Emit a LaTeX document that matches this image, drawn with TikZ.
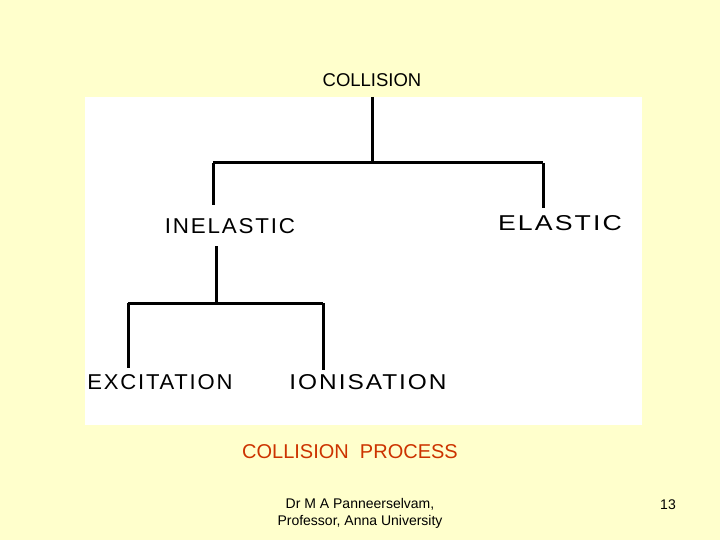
\documentclass[tikz,border=0pt]{standalone}
\usepackage{fontspec}
\setmainfont{Liberation Sans}
\newcommand{\handtxt}[2]{\resizebox{#1pt}{15pt}{\addfontfeatures{LetterSpace=8}#2}}
\begin{document}
\begin{tikzpicture}[x=1pt,y=-1pt,
  tree/.style={line width=3pt,black},
  hand/.style={font=\fontsize{19}{22}\selectfont,inner sep=0},
  lbl/.style={font=\fontsize{18.5}{21}\selectfont,inner sep=0}]
\fill[fill={rgb,255:red,255;green,255;blue,204}] (0,0) rectangle (720,540);
\useasboundingbox (0,0) rectangle (720,540);
\fill[white] (85,97) rectangle (642,425);
\node[lbl] (col) at (372,80) {COLLISION};
\coordinate (t) at (372,97);
\coordinate (tb) at (372,163);
\coordinate (hl) at (213,163);
\coordinate (hr) at (543,163);
\node[hand] (inel) at (230,226) {\handtxt{130}{INELASTIC}};
\node[hand] (el) at (560,223) {\handtxt{124}{ELASTIC}};
\node[hand] (exc) at (160,382) {\handtxt{145}{EXCITATION}};
\node[hand] (ion) at (368,382) {\handtxt{157}{IONISATION}};
\draw[tree] (t) -- (tb);
\draw[tree] (hl) -- (hr);
\draw[tree] (hl) -- (213,205);
\draw[tree] (hr) -- (543,208);
\coordinate (m) at (216,303);
\draw[tree] (216,246) -- (m);
\draw[tree] (128,303) -- (323,303);
\draw[tree] (128,303) -- (128,368);
\draw[tree] (323,303) -- (323,370);
\node[font=\fontsize{20}{23}\selectfont,text={rgb,255:red,204;green,51;blue,0},inner sep=0] (title) at (350,452) {COLLISION\ \ PROCESS};
\node[font=\fontsize{14}{17}\selectfont,align=center,inner sep=0] (foot) at (360,513) {Dr M A Panneerselvam,\\Professor, Anna University};
\node[font=\fontsize{14}{17}\selectfont,inner sep=0] (pg) at (668,505) {13};
\end{tikzpicture}
\end{document}
